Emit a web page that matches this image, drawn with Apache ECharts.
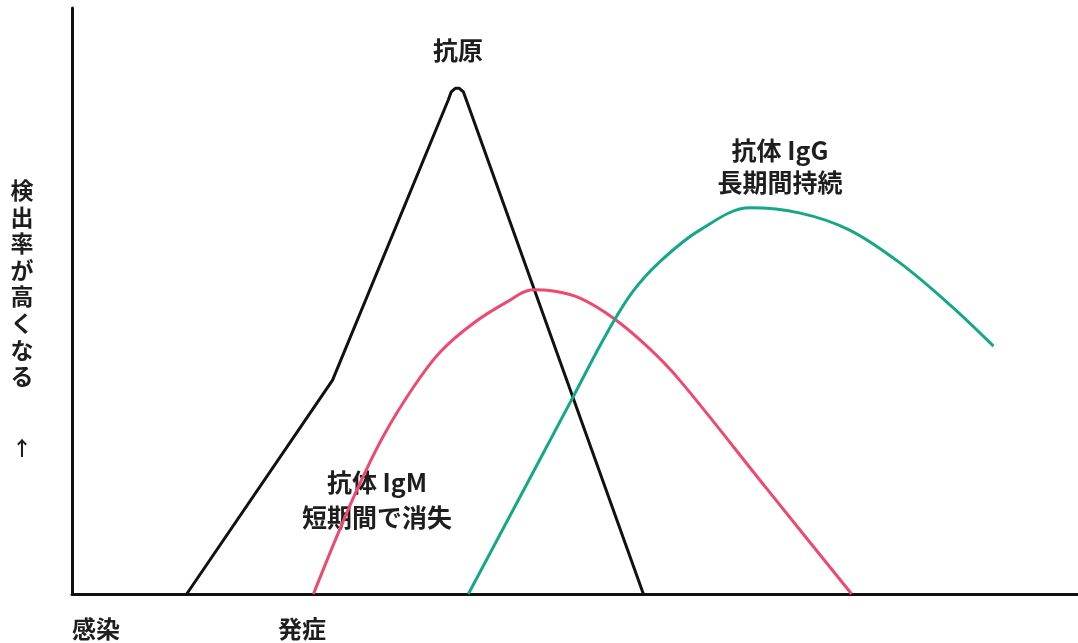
<!DOCTYPE html>
<html>
<head>
<meta charset="utf-8">
<script src="https://cdn.jsdelivr.net/npm/echarts@6/dist/echarts.min.js"></script>
<style>
  html, body { margin: 0; padding: 0; background: #fff; }
  #chart { width: 1078px; height: 643px; }
</style>
</head>
<body>
<div id="chart"></div>
<script>
// 経過(横) 0-100, 検出率(縦) 0-100
// 抗原
var antigenData = [
  [11.4, 0], [25.9, 36.5], [37.4, 84.3], [37.7, 85.7], [38.1, 86.3],
  [38.5, 86.3], [38.9, 85.7], [39.2, 84.3], [56.8, 0]
];
// 抗体 IgM
var igmData = [
  [24.0, 0], [26.1, 8.9], [28.3, 17.7], [30.9, 26.8], [33.9, 35.2],
  [36.6, 41.3], [39.9, 46.2], [43.2, 49.8], [45.8, 51.9], [47.8, 51.7],
  [50.5, 50.5], [53.8, 47.1], [57.2, 42.2], [60.4, 36.5], [69.0, 18.1],
  [77.5, 0]
];
// 抗体 IgG
var iggData = [
  [39.4, 0], [49.8, 33.6], [53.0, 44.0], [55.7, 51.5], [58.5, 56.8],
  [62.4, 62.1], [67.4, 65.9], [72.4, 65.0], [77.3, 62.1], [82.3, 56.5],
  [87.3, 49.3], [91.6, 42.3]
];

var font = '"Noto Sans CJK JP", "Noto Sans", sans-serif';
var txt = function (x, y, text, size, lh) {
  return {
    type: 'text', x: x, y: y,
    style: {
      text: text, fill: '#1e1e1e', font: 'bold ' + (size || 25) + 'px ' + font,
      align: 'center', verticalAlign: 'middle', lineHeight: lh || 33
    }
  };
};

var chart = echarts.init(document.getElementById('chart'));
var option = {
  animation: false,
  grid: { left: 72, right: 0, top: 8, bottom: 49 },
  xAxis: {
    type: 'value', min: 0, max: 100,
    axisLine: { show: true, lineStyle: { color: '#111', width: 3 } },
    axisTick: { show: false }, axisLabel: { show: false }, splitLine: { show: false }
  },
  yAxis: {
    type: 'value', min: 0, max: 100,
    axisLine: { show: true, lineStyle: { color: '#111', width: 3 } },
    axisTick: { show: false }, axisLabel: { show: false }, splitLine: { show: false }
  },
  series: [
    {
      name: '抗原', type: 'line', data: antigenData, showSymbol: false,
      lineStyle: { color: '#111', width: 3, join: 'round' }
    },
    {
      name: '抗体 IgM', type: 'line', data: igmData, showSymbol: false, smooth: 0.35,
      lineStyle: { color: '#ee4a6e', width: 3 }
    },
    {
      name: '抗体 IgG', type: 'line', data: iggData, showSymbol: false, smooth: 0.35,
      lineStyle: { color: '#15a888', width: 3 }
    }
  ],
  graphic: [
    txt(458, 50, '抗原'),
    txt(780, 166, '抗体 IgG\n長期間持続', 25, 32),
    txt(377, 500, '抗体 IgM\n短期間で消失', 25, 35),
    txt(96, 629, '感染', 24),
    txt(302, 629, '発症', 24),
    {
      type: 'text', x: 22, y: 177,
      style: {
        text: '検\n出\n率\nが\n高\nく\nな\nる', fill: '#1e1e1e',
        font: 'bold 23px ' + font, align: 'center', verticalAlign: 'top', lineHeight: 26.6
      }
    },
    txt(22, 448, '↑', 20)
  ]
};
chart.setOption(option);
</script>
</body>
</html>
